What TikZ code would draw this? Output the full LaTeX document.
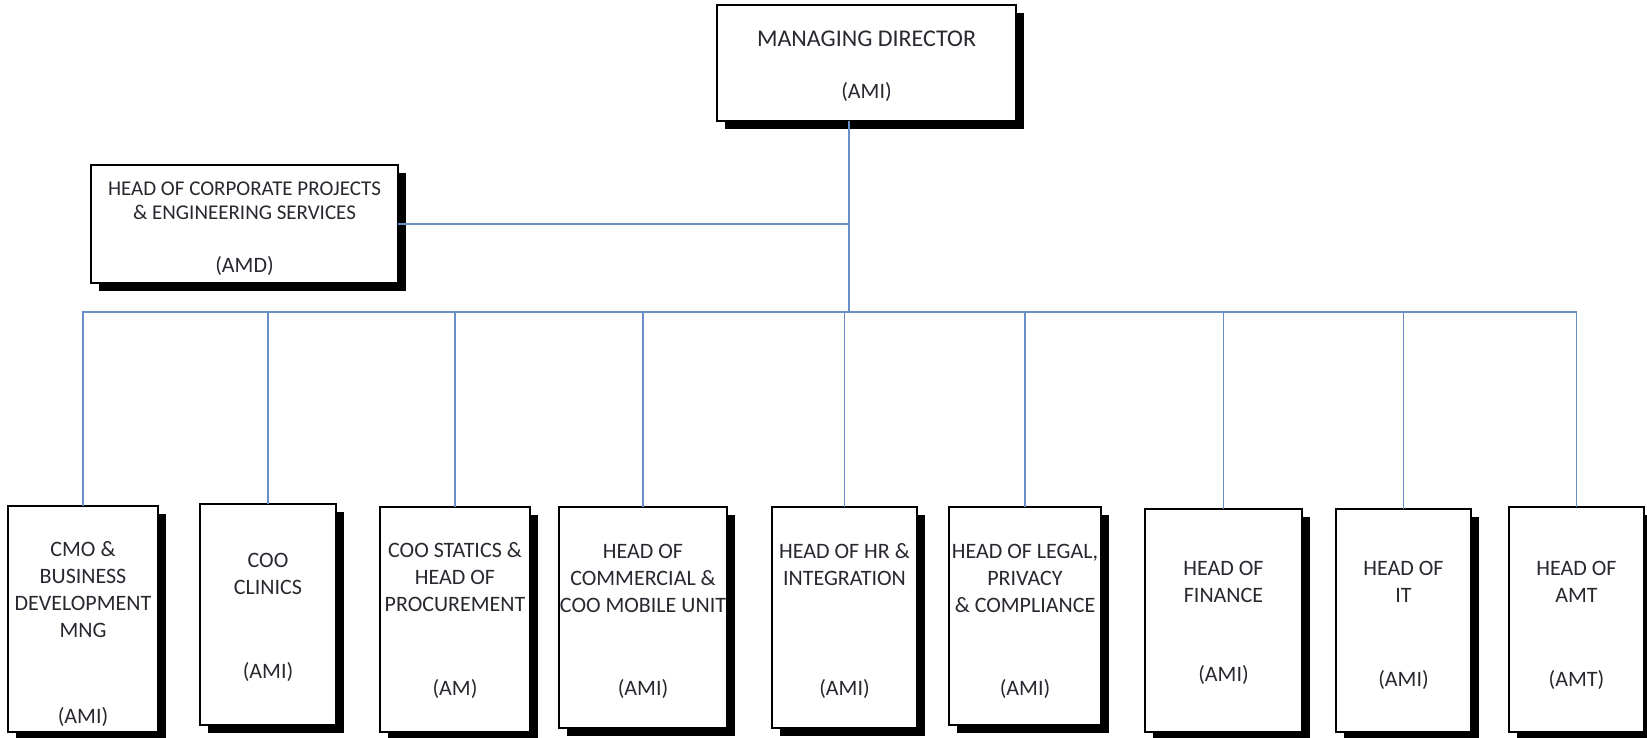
\documentclass[tikz,border=0pt]{standalone}
\usepackage{fontspec}
\setmainfont{Carlito}
\usetikzlibrary{shadows}
\definecolor{lineblue}{RGB}{104,143,200}
\definecolor{txt}{RGB}{40,40,48}
\tikzset{
 box/.style={draw=black, line width=1.8pt, fill=white, rectangle, inner sep=0pt, outer sep=0pt,
   drop shadow={shadow xshift=8pt, shadow yshift=-8pt, fill=black, opacity=1}},
 lbl/.style={text=txt, align=center, font=\fontsize{22}{27}\selectfont, inner sep=0pt},
 conn/.style={draw=lineblue, line width=1.6pt}
}
\begin{document}
\begin{tikzpicture}[x=1pt,y=-1pt]
\useasboundingbox[fill=white] (0,0) rectangle (1647,738);
% boxes
\node[box, minimum width=299pt, minimum height=116pt] (top) at (866.5,63) {};
\node[box, minimum width=307pt, minimum height=118pt] (corp) at (244.5,224) {};
\node[box, minimum width=150pt, minimum height=226pt] (b1) at (83,619) {};
\node[box, minimum width=136pt, minimum height=221pt] (b2) at (268,614.5) {};
\node[box, minimum width=150pt, minimum height=225pt] (b3) at (455,619.5) {};
\node[box, minimum width=168pt, minimum height=221pt] (b4) at (643,617.5) {};
\node[box, minimum width=145pt, minimum height=221pt] (b5) at (844.5,617.5) {};
\node[box, minimum width=152pt, minimum height=218pt] (b6) at (1025,616) {};
\node[box, minimum width=157pt, minimum height=223pt] (b7) at (1223.5,620.5) {};
\node[box, minimum width=135pt, minimum height=223pt] (b8) at (1403.5,620.5) {};
\node[box, minimum width=135pt, minimum height=225pt] (b9) at (1576.5,619.5) {};
% texts
\node[lbl, font=\fontsize{24}{28}\selectfont] (ttop) at (866.5,39) {MANAGING DIRECTOR};
\node[lbl] (ctop) at (866.5,92) {(AMI)};
\node[lbl, font=\fontsize{21}{24}\selectfont] (tcorp) at (244.5,201) {HEAD OF CORPORATE PROJECTS\\\& ENGINEERING SERVICES};
\node[lbl] (ccorp) at (244.5,266) {(AMD)};
\node[lbl] (t1) at (83,590) {CMO \&\\BUSINESS\\DEVELOPMENT\\MNG};
\node[lbl] (c1) at (83,717) {(AMI)};
\node[lbl] (t2) at (268,573.5) {COO\\CLINICS};
\node[lbl] (c2) at (268,672) {(AMI)};
\node[lbl] (t3) at (455,577.5) {COO STATICS \&\\HEAD OF\\PROCUREMENT};
\node[lbl] (c3) at (455,689) {(AM)};
\node[lbl] (t4) at (643,578.5) {HEAD OF\\COMMERCIAL \&\\COO MOBILE UNIT};
\node[lbl] (c4) at (643,689) {(AMI)};
\node[lbl] (t5) at (844.5,565) {HEAD OF HR \&\\INTEGRATION};
\node[lbl] (c5) at (844.5,689) {(AMI)};
\node[lbl] (t6) at (1025,578.5) {HEAD OF LEGAL,\\PRIVACY\\\& COMPLIANCE};
\node[lbl] (c6) at (1025,689) {(AMI)};
\node[lbl] (t7) at (1223.5,581.5) {HEAD OF\\FINANCE};
\node[lbl] (c7) at (1223.5,675) {(AMI)};
\node[lbl] (t8) at (1403.5,581.5) {HEAD OF\\IT};
\node[lbl] (c8) at (1403.5,680) {(AMI)};
\node[lbl] (t9) at (1576.5,581.5) {HEAD OF\\AMT};
\node[lbl] (c9) at (1576.5,680) {(AMT)};
% connectors
\coordinate (j) at (849,312);
\coordinate (k) at (849,224);
\draw[conn] (top.south -| j) -- (k) -- (j);
\draw[conn] (corp.east) -- (k);
\draw[conn] (j) -| (b1.north);
\draw[conn] (j) -| (b9.north);
\foreach \b in {b2,b3,b4,b5,b6,b7,b8}{
  \draw[conn] (\b.north |- j) -- (\b.north);
}
\end{tikzpicture}
\end{document}
